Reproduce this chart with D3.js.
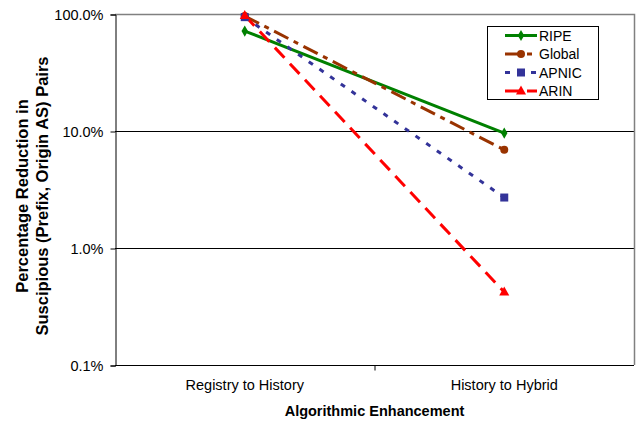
<!DOCTYPE html>
<html lang="en">
<head>
<meta charset="UTF-8">
<title>Percentage Reduction in Suspicious Pairs</title>
<script src="https://cdn.jsdelivr.net/npm/d3@7"></script>
<style>
  body { margin: 0; background: #fff; }
  text { font-family: Arial, "Liberation Sans", sans-serif; }
</style>
</head>
<body>
<svg id="chart" width="636" height="422"></svg>
<script>
// data (percent values)
var categories = ["Registry to History", "History to Hybrid"];
var ripe   = [71.5, 9.6];
var global = [96, 6.9];
var apnic  = [94, 2.7];
var arin   = [97, 0.42];
var yTicks = [0.1, 1, 10, 100];

var series = [
  {name: "RIPE",   values: ripe,   color: "#008000", dash: null,         marker: "diamond"},
  {name: "Global", values: global, color: "#993300", dash: "16,6,5,6",   marker: "circle"},
  {name: "APNIC",  values: apnic,  color: "#333399", dash: "5,8",        marker: "square"},
  {name: "ARIN",   values: arin,   color: "#ff0000", dash: "14,8",       marker: "triangle"}
];

var svg = d3.select("#chart");
var m = {left: 115, right: 634, top: 14, bottom: 365};

var x = d3.scaleBand().domain(categories).range([m.left, m.right]);
var y = d3.scaleLog().domain([0.1, 100]).range([m.bottom, m.top]);
var fmt = d3.format(".1f");

// gridlines
svg.append("g").selectAll("line").data([1, 10]).enter().append("line")
  .attr("x1", m.left).attr("x2", m.right)
  .attr("y1", d => Math.round(y(d)) + 0.5).attr("y2", d => Math.round(y(d)) + 0.5)
  .attr("stroke", "#000").attr("stroke-width", 1);

// top/right border of plot area
svg.append("path")
  .attr("d", "M" + m.left + "," + (m.top + 0.5) + "H" + (m.right + 0.5) + "V" + m.bottom)
  .attr("fill", "none").attr("stroke", "#808080").attr("stroke-width", 1.5);

// y axis
var yAxis = svg.append("g").attr("transform", "translate(" + (m.left + 0.5) + ",0.5)")
  .call(d3.axisLeft(y).tickValues(yTicks).tickSize(5).tickPadding(7).tickFormat(d => fmt(d) + "%"));
yAxis.select(".domain").attr("stroke", "#000");
yAxis.selectAll("text").attr("font-size", 14.5).attr("fill", "#000");

// x axis
var xAxis = svg.append("g").attr("transform", "translate(0," + (m.bottom + 0.5) + ")")
  .call(d3.axisBottom(x).tickSize(0).tickPadding(14));
xAxis.select(".domain").attr("stroke", "#000").attr("d", "M" + m.left + ",0H" + m.right);
xAxis.selectAll("text").attr("font-size", 14.5).attr("fill", "#000");
// category boundary tick
xAxis.append("line")
  .attr("x1", x(categories[1]) + 0.5).attr("x2", x(categories[1]) + 0.5)
  .attr("y1", 0).attr("y2", 5).attr("stroke", "#000");

// axis titles
svg.append("text").attr("x", (m.left + m.right) / 2).attr("y", 416)
  .attr("text-anchor", "middle").attr("font-size", 14.5).attr("font-weight", "bold")
  .text("Algorithmic Enhancement");

var yt = svg.append("text").attr("transform", "translate(28,196) rotate(-90)")
  .attr("text-anchor", "middle").attr("font-size", 16.5).attr("font-weight", "bold");
yt.append("tspan").attr("x", 0).attr("dy", 0).text("Percentage Reduction in");
yt.append("tspan").attr("x", 0).attr("dy", 20).text("Suscipious (Prefix, Origin AS) Pairs");

// markers
function drawMarker(g, type, cx, cy, color) {
  if (type === "diamond") {
    g.append("path").attr("d", d3.symbol(d3.symbolDiamond, 36)()).attr("transform", "translate(" + cx + "," + cy + ")").attr("fill", color);
  } else if (type === "circle") {
    g.append("circle").attr("cx", cx).attr("cy", cy).attr("r", 4).attr("fill", color);
  } else if (type === "square") {
    g.append("rect").attr("x", cx - 4).attr("y", cy - 4).attr("width", 8).attr("height", 8).attr("fill", color);
  } else {
    g.append("path").attr("d", "M" + cx + "," + (cy - 5.5) + "L" + (cx + 5) + "," + (cy + 3.5) + "L" + (cx - 5) + "," + (cy + 3.5) + "Z").attr("fill", color);
  }
}

var line = d3.line().x((d, i) => x(categories[i]) + x.bandwidth() / 2).y(d => y(d));
var plot = svg.append("g");
series.forEach(function(s) {
  plot.append("path").datum(s.values).attr("d", line)
    .attr("fill", "none").attr("stroke", s.color).attr("stroke-width", 3)
    .attr("stroke-dasharray", s.dash);
});
series.forEach(function(s) {
  s.values.forEach(function(v, i) {
    drawMarker(plot, s.marker, x(categories[i]) + x.bandwidth() / 2, y(v), s.color);
  });
});

// legend
var lg = svg.append("g").attr("transform", "translate(487,26)");
lg.append("rect").attr("x", 0.5).attr("y", 0.5).attr("width", 111).attr("height", 73)
  .attr("fill", "#fff").attr("stroke", "#000");
series.forEach(function(s, i) {
  var ly = 9.5 + i * 18.5;
  lg.append("line").attr("x1", 18).attr("x2", 50).attr("y1", ly).attr("y2", ly)
    .attr("stroke", s.color).attr("stroke-width", 3).attr("stroke-dasharray", s.dash);
  drawMarker(lg, s.marker, 34, ly, s.color);
  lg.append("text").attr("x", 52).attr("y", ly + 5).attr("font-size", 14).text(s.name);
});
</script>
</body>
</html>
